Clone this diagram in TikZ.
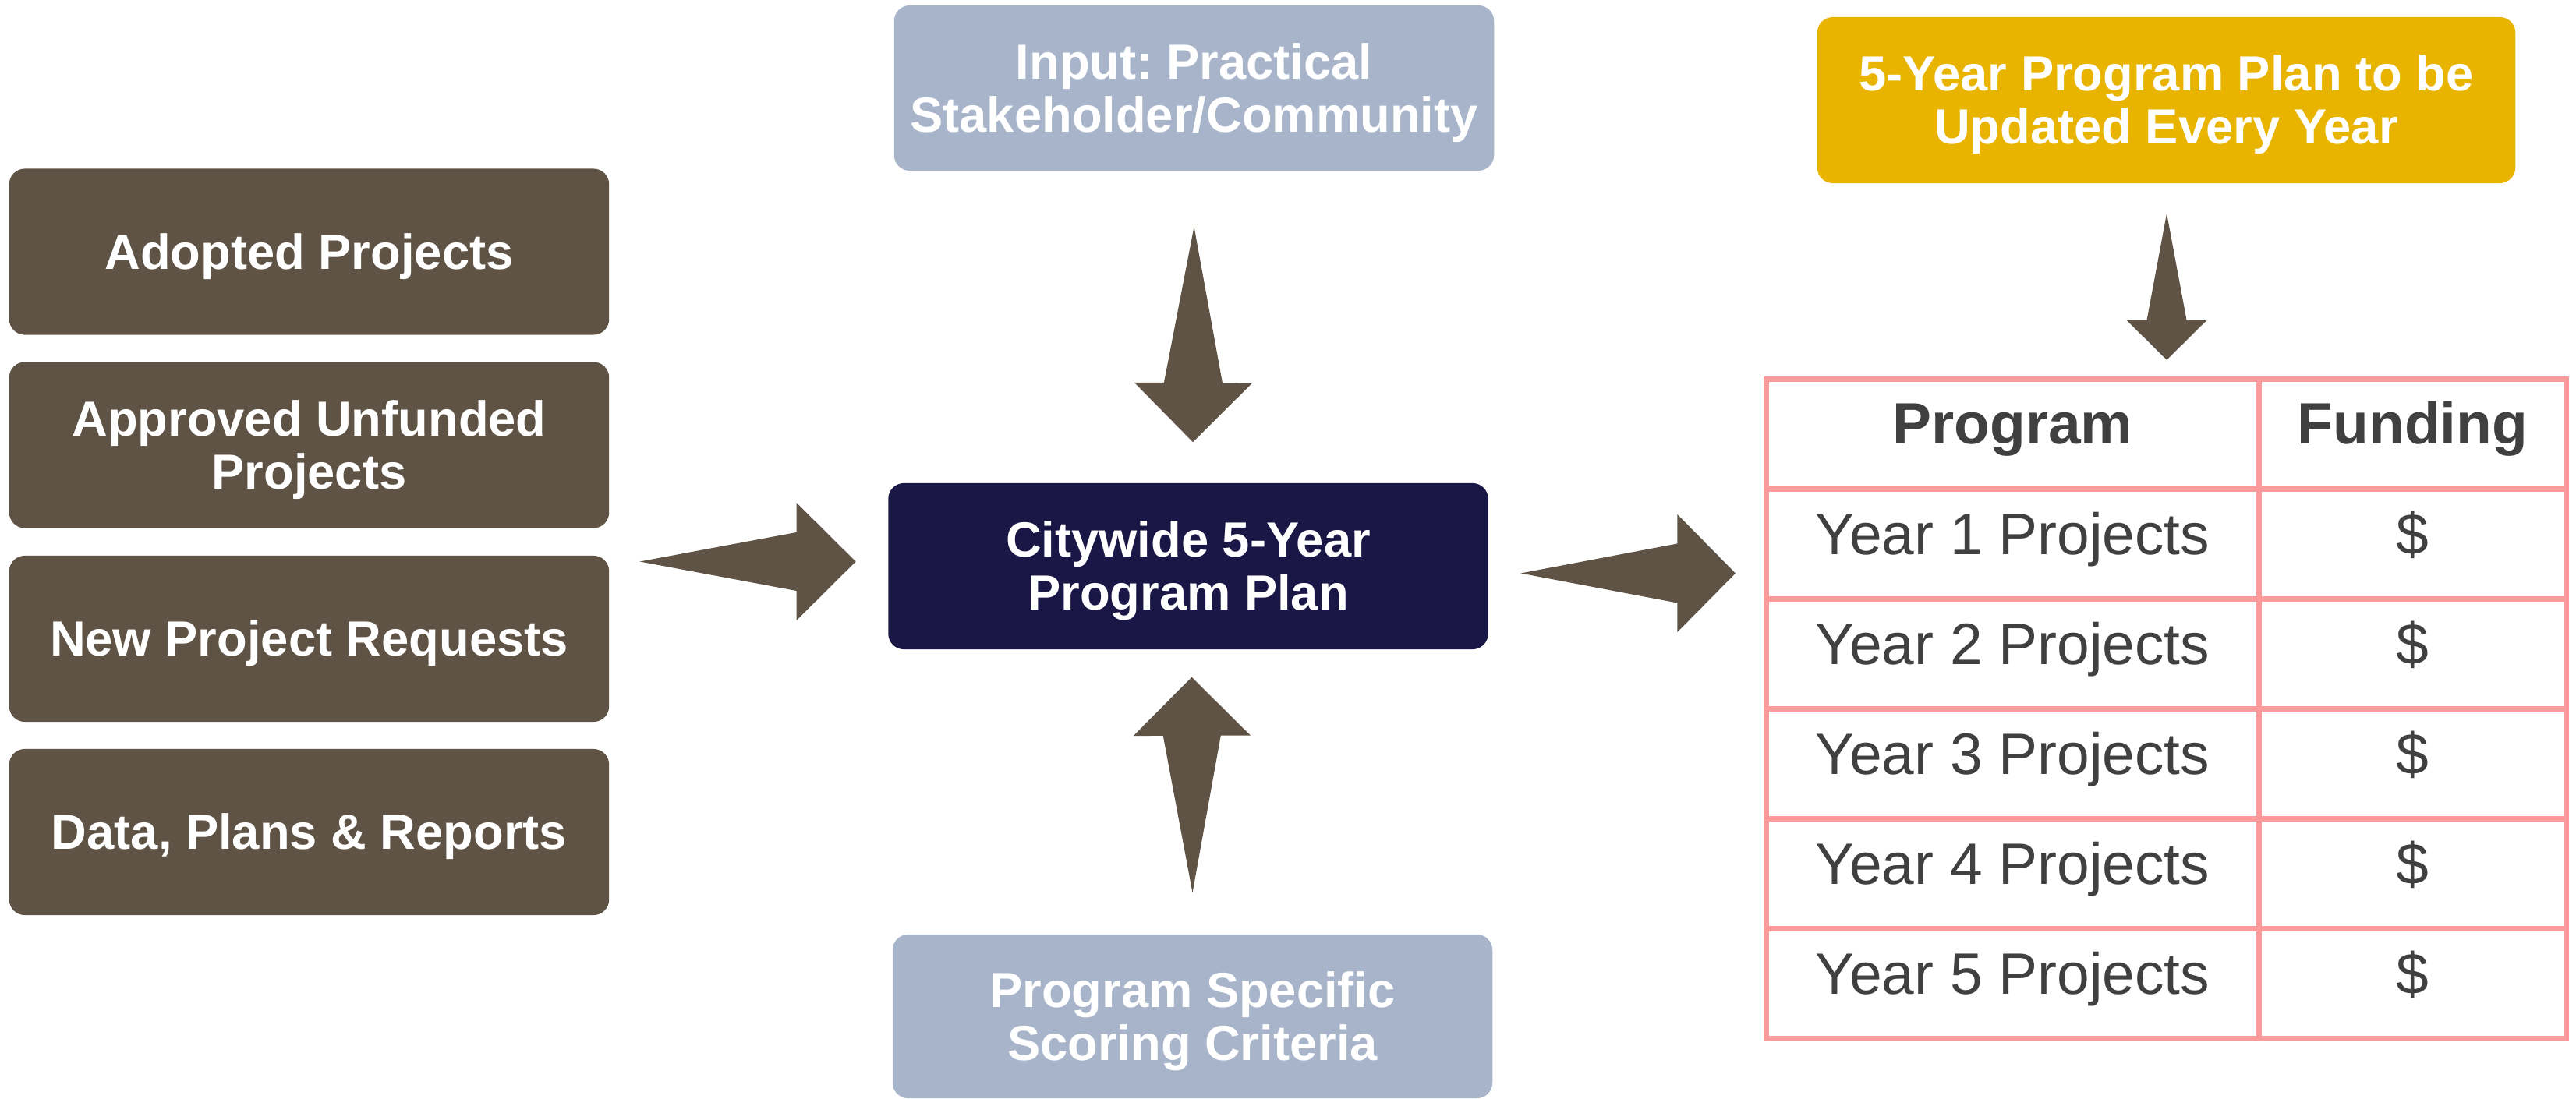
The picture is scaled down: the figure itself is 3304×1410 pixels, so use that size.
\documentclass[tikz,border=0pt]{standalone}
\usepackage{fontspec}
\setmainfont{Liberation Sans}
\usetikzlibrary{calc}
\frenchspacing
\definecolor{brownbox}{RGB}{94,83,69}
\definecolor{navybox}{RGB}{26,22,70}
\definecolor{greybox}{RGB}{167,180,201}
\definecolor{goldbox}{RGB}{232,180,0}
\definecolor{tablepink}{RGB}{250,154,154}
\definecolor{tabletext}{RGB}{64,64,64}
\newcommand\spear[5]{%
  \coordinate (spb) at ($(#2)!#5!(#1)$);
  \fill[arrowfill] (#1) -- ($(spb)!#3!90:(#2)$) -- ($(spb)!#4!90:(#2)$) -- (#2)
    -- ($(spb)!#4!-90:(#2)$) -- ($(spb)!#3!-90:(#2)$) -- cycle;
}
\newcommand\topstrut{\rule{0pt}{16.5pt}}
\tikzset{
  box/.style={rounded corners=0.2cm, inner sep=0pt, align=center, text=white,
    font=\fontsize{18}{19.3}\selectfont\bfseries},
  leftbox/.style={box, fill=brownbox, minimum width=7.69cm, minimum height=2.13cm},
  midbox/.style={box, minimum width=7.69cm, minimum height=2.12cm},
  arrowfill/.style={fill=brownbox},
  grid/.style={draw=tablepink, line width=0.07cm},
  cell/.style={anchor=base, text=tabletext, inner sep=0pt, font=\fontsize{21.3}{24}\selectfont},
  headcell/.style={cell, font=\fontsize{21.3}{24}\selectfont\bfseries},
}
\begin{document}
\begin{tikzpicture}[x=0.01cm, y=-0.01cm]
\useasboundingbox (0,0) rectangle (3304,1410);
% left boxes
\node[leftbox] (adopted) at (396.5,323) {\topstrut Adopted Projects};
\node[leftbox] (approved) at (396.5,571) {\topstrut Approved Unfunded\\Projects};
\node[leftbox] (newreq) at (396.5,819.5) {\topstrut New Project Requests};
\node[leftbox] (data) at (396.5,1067.5) {\topstrut Data, Plans \& Reports};
% centre column
\node[midbox, fill=greybox] (input) at (1531.5,113) {\topstrut Input: Practical\\Stakeholder/Community};
\node[midbox, fill=navybox, minimum height=2.13cm] (plan) at (1524,726.5) {\topstrut Citywide 5-Year\\Program Plan};
\node[midbox, fill=greybox, minimum height=2.10cm] (criteria) at (1529.5,1304) {\topstrut Program Specific\\Scoring Criteria};
% right
\node[box, fill=goldbox, minimum width=8.95cm, minimum height=2.13cm] (update) at (2778.5,128.5) {\topstrut 5-Year Program Plan to be\\Updated Every Year};
% table
\coordinate (tnw) at (2265.5,486.5);
\coordinate (tse) at (3291.5,1332);
\draw[grid] (tnw) rectangle (tse);
\draw[grid] (2897.5,486.5) coordinate (ctop) -- (2897.5,1332) coordinate (cbot);
\foreach \y in {627.5,768.5,909.5,1050.5,1191.5}{
  \draw[grid] (2265.5,\y) -- (3291.5,\y);
}
\node[headcell] (hprog) at (2581.5,570) {Program};
\node[headcell] (hfund) at (3094.5,570) {Funding};
\foreach \i/\b in {1/711.5,2/852.5,3/993.5,4/1134.5,5/1275.5}{
  \node[cell] (yr\i) at (2581.5,\b) {Year \i\ Projects};
  \node[cell] (dl\i) at (3094.5,\b) {\$};
}
% arrows
\coordinate (la0) at ($(plan.west)+(-318,-6)$);
\coordinate (la1) at ($(plan.west)+(-41,-6)$);
\spear{la0}{la1}{0.375cm}{0.755cm}{0.76cm}
\coordinate (ra0) at ($(plan.east)+(41,9)$);
\coordinate (ra1) at ($(plan.east)+(316.5,9)$);
\spear{ra0}{ra1}{0.38cm}{0.755cm}{0.745cm}
\coordinate (ta0) at ($(input.south)+(0,71)$);
\coordinate (ta1) at ($(plan.north)+(6,-52)$);
\spear{ta0}{ta1}{0.375cm}{0.755cm}{0.76cm}
\coordinate (ba0) at ($(criteria.north)+(0,-53)$);
\coordinate (ba1) at ($(plan.south)+(4.5,35)$);
\spear{ba0}{ba1}{0.37cm}{0.75cm}{0.75cm}
\coordinate (ga0) at ($(update.south)+(0.5,38)$);
\coordinate (ga1) at ($(update.south)+(0.5,226)$);
\spear{ga0}{ga1}{0.255cm}{0.515cm}{0.51cm}
\end{tikzpicture}
\end{document}
